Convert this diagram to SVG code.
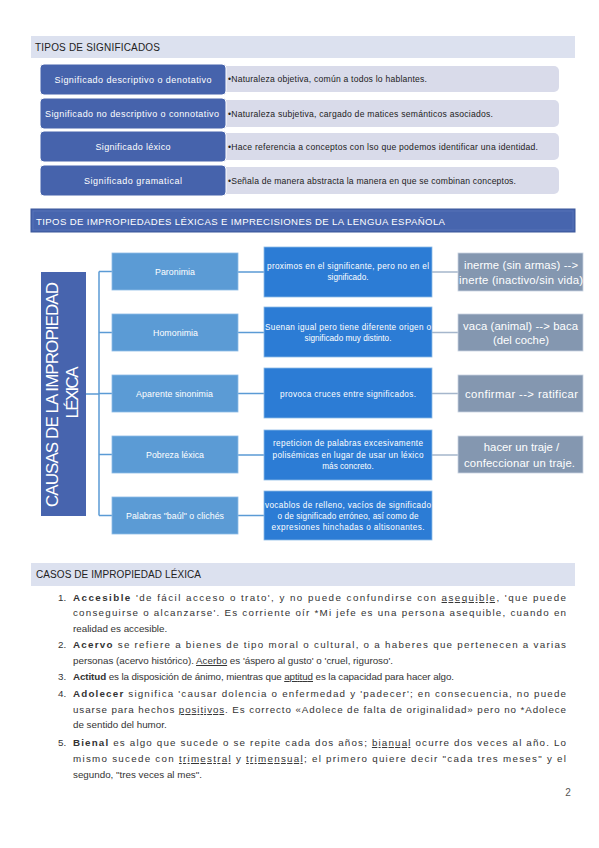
<svg xmlns="http://www.w3.org/2000/svg" width="599" height="848" viewBox="0 0 599 848">
<style>
text{font-family:"Liberation Sans",Arial,sans-serif}
.band{fill:#DCE1EF}
.bt{font-size:10px;fill:#222}
.dk{fill:#4663AC;stroke:#fff;stroke-width:1}
.lt{fill:#D9DBEA}
.dkt{font-size:9px;fill:#fff;text-anchor:middle}
.ltt{font-size:8.6px;fill:#222}
.mb{fill:#5B9BD5;stroke:#8DBBE6;stroke-width:0.8}
.mbt{font-size:8.8px;fill:#fff;text-anchor:middle}
.db{fill:#2C7CD5;stroke:#8DBBE6;stroke-width:0.8}
.dbt{font-size:8.2px;fill:#fff;text-anchor:middle}
.gb{fill:#8497B0;stroke:#C9D3E0;stroke-width:0.8}
.gbt{font-size:11.3px;fill:#fff;text-anchor:middle}
.cl{stroke:#5B9BD5;stroke-width:1.5;fill:none}
.cr{stroke:#A5B6CC;stroke-width:1.5;fill:none}
.li{font-size:9.8px;fill:#333}
.u{text-decoration:underline}
.b{font-weight:bold}
</style>

<!-- Section 1 -->
<g id="hdr1">
<rect class="band" x="31" y="36" width="544" height="22"/>
<text class="bt" x="35" y="50.5" textLength="125">TIPOS DE SIGNIFICADOS</text>
</g>

<g id="row1">
<rect class="lt" x="215" y="66" width="344" height="26" rx="5"/>
<rect class="dk" x="40" y="64" width="186" height="31" rx="4"/>
<text class="dkt" x="133" y="82.5" textLength="157">Significado descriptivo o denotativo</text>
<text class="ltt" x="228" y="82" textLength="199">•Naturaleza objetiva, común a todos lo hablantes.</text>
</g>
<g id="row2">
<rect class="lt" x="215" y="100" width="344" height="27" rx="5"/>
<rect class="dk" x="40" y="98" width="186" height="31" rx="4"/>
<text class="dkt" x="132" y="116.5" textLength="174">Significado no descriptivo o connotativo</text>
<text class="ltt" x="228" y="116.5" textLength="265">•Naturaleza subjetiva, cargado de matices semánticos asociados.</text>
</g>
<g id="row3">
<rect class="lt" x="215" y="133" width="344" height="27" rx="5"/>
<rect class="dk" x="40" y="131" width="186" height="31" rx="4"/>
<text class="dkt" x="133" y="149.5" textLength="75">Significado léxico</text>
<text class="ltt" x="228" y="149.5" textLength="310">•Hace referencia a conceptos con lso que podemos identificar una identidad.</text>
</g>
<g id="row4">
<rect class="lt" x="215" y="167" width="344" height="27" rx="5"/>
<rect class="dk" x="40" y="165" width="186" height="31" rx="4"/>
<text class="dkt" x="133" y="183.5" textLength="98">Significado gramatical</text>
<text class="ltt" x="228" y="183.5" textLength="288">•Señala de manera abstracta la manera en que se combinan conceptos.</text>
</g>

<!-- Section 2 -->
<g id="hdr2">
<rect x="31" y="209" width="544" height="23" fill="#4765AE" stroke="#3A5699" stroke-width="1"/>
<rect x="33" y="211" width="540" height="19" fill="none" stroke="#5A76BA" stroke-width="0.8"/>
<text x="36" y="225" font-size="9.6" fill="#fff" textLength="409">TIPOS DE IMPROPIEDADES LÉXICAS E IMPRECISIONES DE LA LENGUA ESPAÑOLA</text>
</g>

<g id="connectors">
<path class="cl" d="M86 394H99M99 271.5V515.5M99 271.5H112M99 332.5H112M99 393.5H112M99 454.5H112M99 515.5H112"/>
<path class="cl" d="M238 272H264M238 332.5H264M238 393.5H264M238 455H264M238 515.5H264"/>
<path class="cr" d="M432 272H458M432 332.5H458M432 393.5H458M432 455H458"/>
</g>

<g id="causas">
<rect x="41" y="272" width="45" height="244" fill="#4764AE"/>
<text transform="translate(58,394.5) rotate(-90)" font-size="17" fill="#fff" text-anchor="middle" textLength="225">CAUSAS DE LA IMPROPIEDAD</text>
<text transform="translate(78,392.5) rotate(-90)" font-size="17" fill="#fff" text-anchor="middle" textLength="52">LÉXICA</text>
</g>

<g id="paronimia">
<rect class="mb" x="112" y="253" width="126" height="37"/>
<text class="mbt" x="175" y="274.5" textLength="40">Paronimia</text>
</g>
<g id="homonimia">
<rect class="mb" x="112" y="314" width="126" height="37"/>
<text class="mbt" x="175.5" y="335.5" textLength="45">Homonimia</text>
</g>
<g id="aparente">
<rect class="mb" x="112" y="375" width="126" height="37"/>
<text class="mbt" x="174.5" y="396.5" textLength="77">Aparente sinonimia</text>
</g>
<g id="pobreza">
<rect class="mb" x="112" y="436" width="126" height="37"/>
<text class="mbt" x="175" y="457.5" textLength="58">Pobreza léxica</text>
</g>
<g id="palabras">
<rect class="mb" x="112" y="497" width="126" height="37"/>
<text class="mbt" x="175" y="518.5" textLength="98">Palabras "baúl" o clichés</text>
</g>

<g id="def1">
<rect class="db" x="264" y="247" width="168" height="50"/>
<text class="dbt" x="348" y="269" textLength="162">proximos en el significante, pero no en el</text>
<text class="dbt" x="348" y="280">significado.</text>
</g>
<g id="def2">
<rect class="db" x="264" y="307" width="168" height="50"/>
<text class="dbt" x="348" y="330" textLength="166">Suenan igual pero tiene diferente origen o</text>
<text class="dbt" x="348" y="341">significado muy distinto.</text>
</g>
<g id="def3">
<rect class="db" x="264" y="368" width="168" height="50"/>
<text class="dbt" x="348" y="397" textLength="136">provoca cruces entre significados.</text>
</g>
<g id="def4">
<rect class="db" x="264" y="430" width="168" height="50"/>
<text class="dbt" x="348" y="446" textLength="150">repeticion de palabras excesivamente</text>
<text class="dbt" x="348" y="458" textLength="151">polisémicas en lugar de usar un léxico</text>
<text class="dbt" x="348" y="469">más concreto.</text>
</g>
<g id="def5">
<rect class="db" x="264" y="491" width="168" height="49"/>
<text class="dbt" x="348" y="508" textLength="166">vocablos de relleno, vacíos de significado</text>
<text class="dbt" x="348" y="519" textLength="141">o de significado erróneo, así como de</text>
<text class="dbt" x="348" y="530" textLength="153">expresiones hinchadas o altisonantes.</text>
</g>

<g id="ej1">
<rect class="gb" x="458" y="253" width="125" height="38"/>
<text class="gbt" x="521" y="269" textLength="114">inerme (sin armas) --&gt;</text>
<text class="gbt" x="521" y="284" textLength="124">inerte (inactivo/sin vida)</text>
</g>
<g id="ej2">
<rect class="gb" x="458" y="314" width="125" height="37"/>
<text class="gbt" x="520.5" y="330" textLength="115">vaca (animal) --&gt; baca</text>
<text class="gbt" x="521" y="344">(del coche)</text>
</g>
<g id="ej3">
<rect class="gb" x="458" y="375" width="125" height="37"/>
<text class="gbt" x="521.5" y="398" textLength="113">confirmar  --&gt; ratificar</text>
</g>
<g id="ej4">
<rect class="gb" x="458" y="436" width="125" height="37"/>
<text class="gbt" x="521.5" y="451">hacer un traje /</text>
<text class="gbt" x="519.5" y="467" textLength="111">confeccionar un traje.</text>
</g>

<!-- Section 3 -->
<g id="hdr3">
<rect class="band" x="31" y="563" width="544" height="23"/>
<text class="bt" x="36" y="577.5" textLength="165">CASOS DE IMPROPIEDAD LÉXICA</text>
</g>

<g id="lista">
<text class="li" x="58" y="601">1.</text>
<text class="li" x="73" y="601" textLength="493"><tspan class="b">Accesible</tspan> 'de fácil acceso o trato', y no puede confundirse con <tspan class="u">asequible</tspan>, 'que puede</text>
<text class="li" x="73" y="616" textLength="493">conseguirse o alcanzarse'. Es corriente oír *Mi jefe es una persona asequible, cuando en</text>
<text class="li" x="73" y="632">realidad es accesible.</text>

<text class="li" x="58" y="648">2.</text>
<text class="li" x="73" y="648" textLength="493"><tspan class="b">Acervo</tspan> se refiere a bienes de tipo moral o cultural, o a haberes que pertenecen a varias</text>
<text class="li" x="73" y="664">personas (acervo histórico). <tspan class="u">Acerbo</tspan> es 'áspero al gusto' o 'cruel, riguroso'.</text>

<text class="li" x="58" y="680">3.</text>
<text class="li" x="73" y="680" textLength="381"><tspan class="b">Actitud</tspan> es la disposición de ánimo, mientras que <tspan class="u">aptitud</tspan> es la capacidad para hacer algo.</text>

<text class="li" x="58" y="697">4.</text>
<text class="li" x="73" y="697" textLength="493"><tspan class="b">Adolecer</tspan> significa 'causar dolencia o enfermedad y 'padecer'; en consecuencia, no puede</text>
<text class="li" x="73" y="713" textLength="493">usarse para hechos <tspan class="u">positivos</tspan>. Es correcto «Adolece de falta de originalidad» pero no *Adolece</text>
<text class="li" x="73" y="728">de sentido del humor.</text>

<text class="li" x="58" y="746">5.</text>
<text class="li" x="73" y="746" textLength="493"><tspan class="b">Bienal</tspan> es algo que sucede o se repite cada dos años; <tspan class="u">bianual</tspan> ocurre dos veces al año. Lo</text>
<text class="li" x="73" y="762" textLength="493">mismo sucede con <tspan class="u">trimestral</tspan> y <tspan class="u">trimensual</tspan>; el primero quiere decir "cada tres meses" y el</text>
<text class="li" x="73" y="778">segundo, "tres veces al mes".</text>
</g>

<text x="568" y="796" font-size="10" fill="#555" text-anchor="middle">2</text>
</svg>
